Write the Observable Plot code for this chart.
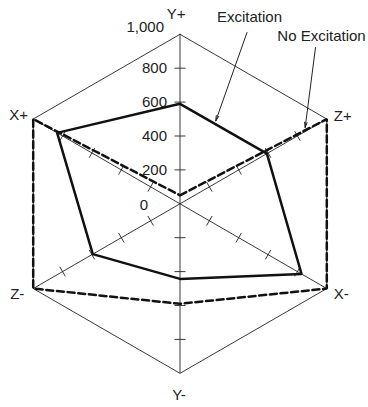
<!DOCTYPE html>
<html><head><meta charset="utf-8">
<script src="https://cdn.jsdelivr.net/npm/d3@7"></script>
<script src="https://cdn.jsdelivr.net/npm/@observablehq/plot@0.6"></script>
<style>body{margin:0;background:#fff}</style>
</head><body><div id="chart"></div>
<script>
// ---- data ----
const axes = ["Y+", "Z+", "X-", "Y-", "Z-", "X+"];
const excitation = [590, 592, 828, 443, 594, 837];
const noExcitation = [50, 1000, 1000, 590, 1000, 1000];
const tickValues = [200, 400, 600, 800];
const tickLabelValues = [0, 200, 400, 600, 800, 1000];
const tickLabels = ["0", "200", "400", "600", "800", "1,000"];
const maxValue = 1000;
const seriesNames = ["Excitation", "No Excitation"];

// ---- geometry helpers ----
const W = 368, H = 407;
const cx = 179.5, cy = 203.3, k = 0.1695; // px per unit
const xDomain = [-cx / k, (W - cx) / k];
const yDomain = [-(H - cy) / k, cy / k];
const ang = i => i * Math.PI / 3;
const px = (v, i) => v * Math.sin(ang(i));
const py = (v, i) => v * Math.cos(ang(i));

const polygon = vals => {
  const pts = vals.map((v, i) => ({x: px(v, i), y: py(v, i), axis: axes[i]}));
  return [...pts, pts[0]];
};
const outer = polygon(axes.map(() => maxValue));
const spokes = axes.map((a, i) => ({x1: 0, y1: 0, x2: px(maxValue, i), y2: py(maxValue, i)}));
const half = 5.5 / k;
const ticks = axes.flatMap((a, i) => tickValues.map(v => {
  const c = Math.cos(ang(i)), s = Math.sin(ang(i));
  return {x1: px(v, i) - c * half, y1: py(v, i) + s * half, x2: px(v, i) + c * half, y2: py(v, i) - s * half};
}));
const exPoly = polygon(excitation);
const noPoly = polygon(noExcitation);

const tl = tickLabelValues.map((v, j) => ({x: 0, y: v, label: tickLabels[j]}));
const axisLab = axes.map((a, i) => ({x: px(maxValue, i), y: py(maxValue, i), label: a, i}));

// annotation arrows point at the Y+ -> Z+ segment of each series
const lerp = (a, b, t) => ({x: a.x + (b.x - a.x) * t, y: a.y + (b.y - a.y) * t});
const exTip = lerp(exPoly[0], exPoly[1], 0.4);
const noTip = lerp(noPoly[0], noPoly[1], 0.85);
const fromPx = (X, Y) => ({x: (X - cx) / k, y: (cy - Y) / k});
const exText = fromPx(249, 17), noText = fromPx(321, 36);
const exStart = fromPx(246.5, 32), noStart = fromPx(315, 47);
const annText = [{...exText, label: seriesNames[0]}, {...noText, label: seriesNames[1]}];
const arrows = [
  {x1: exStart.x, y1: exStart.y, x2: exTip.x, y2: exTip.y},
  {x1: noStart.x, y1: noStart.y, x2: noTip.x, y2: noTip.y}
];

const font = {fontSize: 15, fill: "#222"};

const chart = Plot.plot({
  width: W, height: H,
  margin: 0,
  x: {domain: xDomain, axis: null},
  y: {domain: yDomain, axis: null},
  style: {fontFamily: "'Liberation Sans', Arial, sans-serif", background: "#fff"},
  marks: [
    Plot.line(outer, {x: "x", y: "y", stroke: "#222", strokeWidth: 0.9}),
    Plot.link(spokes, {x1: "x1", y1: "y1", x2: "x2", y2: "y2", stroke: "#222", strokeWidth: 0.9}),
    Plot.link(ticks, {x1: "x1", y1: "y1", x2: "x2", y2: "y2", stroke: "#222", strokeWidth: 0.9}),
    Plot.line(noPoly, {x: "x", y: "y", stroke: "#111", strokeWidth: 2.5, strokeDasharray: "7,3.7", strokeLinejoin: "miter"}),
    Plot.line(exPoly, {x: "x", y: "y", stroke: "#111", strokeWidth: 2.5, strokeLinejoin: "miter"}),
    // tick labels on the Y+ spoke
    Plot.text(tl.filter(d => d.y > 0 && d.y < maxValue), {x: "x", y: "y", text: "label", textAnchor: "end", dx: -13, ...font}),
    Plot.text(tl.filter(d => d.y === 0), {x: "x", y: "y", text: "label", textAnchor: "end", dx: -32, dy: 1, ...font}),
    Plot.text(tl.filter(d => d.y === maxValue), {x: "x", y: "y", text: "label", textAnchor: "end", dx: -16, dy: -7, ...font}),
    // axis labels
    Plot.text(axisLab.filter(d => d.i === 0), {x: "x", y: "y", text: "label", dx: -4, dy: -20, ...font}),
    Plot.text(axisLab.filter(d => d.i === 3), {x: "x", y: "y", text: "label", dx: -1, dy: 22, ...font}),
    Plot.text(axisLab.filter(d => d.i === 1), {x: "x", y: "y", text: "label", textAnchor: "start", dx: 7, dy: -3, ...font}),
    Plot.text(axisLab.filter(d => d.i === 2), {x: "x", y: "y", text: "label", textAnchor: "start", dx: 7, dy: 6, ...font}),
    Plot.text(axisLab.filter(d => d.i === 5), {x: "x", y: "y", text: "label", textAnchor: "start", dx: -24, dy: -4, ...font}),
    Plot.text(axisLab.filter(d => d.i === 4), {x: "x", y: "y", text: "label", textAnchor: "start", dx: -23, dy: 6, ...font}),
    // annotations
    Plot.text(annText, {x: "x", y: "y", text: "label", ...font}),
    Plot.arrow(arrows, {x1: "x1", y1: "y1", x2: "x2", y2: "y2", stroke: "#222", strokeWidth: 1, headLength: 8, headAngle: 28, insetEnd: 3})
  ]
});
document.getElementById("chart").appendChild(chart);
</script>
</body></html>
